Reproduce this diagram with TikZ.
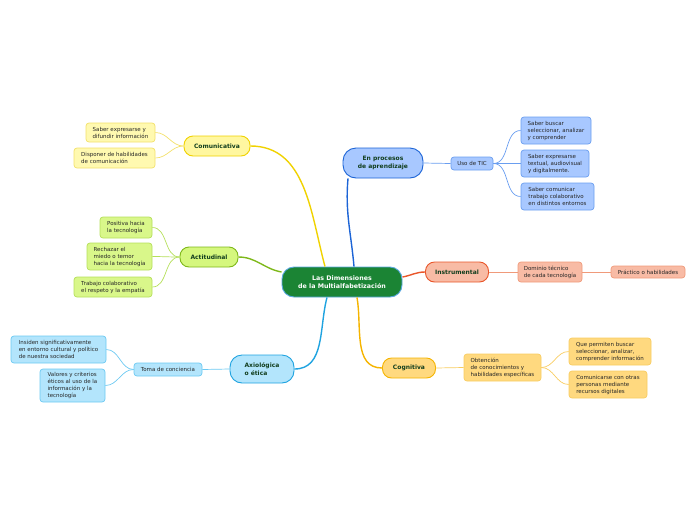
\documentclass[tikz,border=0pt]{standalone}
\usepackage{fontspec}
\setmainfont{DejaVu Sans}
\definecolor{ctrfill}{HTML}{1B8434}
\definecolor{ctrdraw}{HTML}{5AA8E0}
\definecolor{ttxt}{HTML}{123E1E}
\definecolor{ctxt}{HTML}{262626}
\definecolor{yfill}{HTML}{FFF7A0}\definecolor{ydraw}{HTML}{F0D200}\definecolor{ycfill}{HTML}{FFF9B0}\definecolor{ycdraw}{HTML}{F3E06A}
\definecolor{gfill}{HTML}{D5F77E}\definecolor{gdraw}{HTML}{7EB81A}\definecolor{gcfill}{HTML}{D9F78A}\definecolor{gcdraw}{HTML}{B5DF5A}
\definecolor{lbfill}{HTML}{B3E5FC}\definecolor{lbdraw}{HTML}{1FA3E0}\definecolor{lbcdraw}{HTML}{6CC9F2}
\definecolor{bfill}{HTML}{A8C8FF}\definecolor{bdraw}{HTML}{1C64D6}\definecolor{bcdraw}{HTML}{6A9EF0}
\definecolor{ofill}{HTML}{F8BBA5}\definecolor{odraw}{HTML}{E9562A}\definecolor{ocdraw}{HTML}{F09A7A}
\definecolor{cfill}{HTML}{FFD97F}\definecolor{cdraw}{HTML}{F5B400}\definecolor{ccdraw}{HTML}{F8CC60}
\tikzset{
  topic/.style={draw, line width=0.9pt, rounded corners=9pt, inner sep=0pt, align=center,
     font=\fontsize{6}{7.5}\selectfont\bfseries, text=ttxt},
  sub/.style={draw, line width=0.7pt, rounded corners=3pt, inner sep=0pt, align=left,
     font=\fontsize{5.5}{7}\selectfont, text=ctxt},
  mainline/.style={line width=1.4pt},
  subline/.style={line width=0.7pt},
}
\begin{document}
\begin{tikzpicture}[x=1pt,y=-1pt]
\useasboundingbox (0,0) rectangle (696,520);
% center
\node[draw=ctrdraw, fill=ctrfill, line width=0.9pt, rounded corners=12pt, minimum width=120pt, minimum height=30pt,
  align=center, text=white, font=\fontsize{6.3}{8}\selectfont\bfseries] (c) at (342,282) {Las Dimensiones\\de la Multialfabetización};
% main topics
\node[topic, fill=yfill, draw=ydraw, minimum width=66pt, minimum height=20pt] (com) at (217,146) {Comunicativa};
\node[topic, fill=gfill, draw=gdraw, minimum width=58pt, minimum height=20pt] (act) at (209,257) {Actitudinal};
\node[topic, fill=lbfill, draw=lbdraw, minimum width=64pt, minimum height=28pt, rounded corners=12pt, align=left] (axi) at (262,369) {Axiológica\\o ética};
\node[topic, fill=bfill, draw=bdraw, minimum width=80pt, minimum height=30pt, rounded corners=13pt] (apr) at (383,163) {En procesos\\de aprendizaje};
\node[topic, fill=ofill, draw=odraw, minimum width=63pt, minimum height=20pt] (ins) at (457,272) {Instrumental};
\node[topic, fill=cfill, draw=cdraw, minimum width=53pt, minimum height=20pt] (cog) at (409,368) {Cognitiva};
% comunicativa children
\node[sub, fill=ycfill, draw=ycdraw, minimum width=69pt, minimum height=19pt] (com1) at (120.5,132.5) {Saber expresarse y\\difundir información};
\node[sub, fill=ycfill, draw=ycdraw, minimum width=81pt, minimum height=20pt] (com2) at (114.5,158) {Disponer de habilidades\\de comunicación};
% actitudinal children
\node[sub, fill=gcfill, draw=gcdraw, minimum width=52pt, minimum height=21pt] (act1) at (126,227.5) {Positiva hacia\\la tecnología};
\node[sub, fill=gcfill, draw=gcdraw, minimum width=65pt, minimum height=27pt] (act2) at (119.5,256.5) {Rechazar el\\miedo o temor\\hacia la tecnología};
\node[sub, fill=gcfill, draw=gcdraw, minimum width=78pt, minimum height=20pt] (act3) at (113,287) {Trabajo colaborativo\\el respeto y la empatía};
% axiologica children
\node[sub, fill=lbfill, draw=lbcdraw, minimum width=68pt, minimum height=13pt] (toma) at (168,369.5) {Toma de conciencia};
\node[sub, fill=lbfill, draw=lbcdraw, minimum width=95pt, minimum height=27pt] (axi1) at (58.5,349.5) {Insiden significativamente\\en entorno cultural y político\\de nuestra sociedad};
\node[sub, fill=lbfill, draw=lbcdraw, minimum width=65pt, minimum height=33pt] (axi2) at (72.5,385.5) {Valores y criterios\\éticos al uso de la\\información y la\\tecnología};
% aprendizaje children
\node[sub, fill=bfill, draw=bcdraw, minimum width=42pt, minimum height=13pt] (tic) at (472,163.5) {Uso de TIC};
\node[sub, fill=bfill, draw=bcdraw, minimum width=70pt, minimum height=27pt] (apr1) at (556,130.5) {Saber buscar\\seleccionar, analizar\\y comprender};
\node[sub, fill=bfill, draw=bcdraw, minimum width=68pt, minimum height=27pt] (apr2) at (555,163.5) {Saber expresarse\\textual, audiovisual\\y digitalmente.};
\node[sub, fill=bfill, draw=bcdraw, minimum width=73pt, minimum height=27pt] (apr3) at (557.5,196.5) {Saber comunicar\\trabajo colaborativo\\en distintos entornos};
% instrumental children
\node[sub, fill=ofill, draw=ocdraw, minimum width=64pt, minimum height=20pt] (dom) at (550,272) {Dominio técnico\\de cada tecnología};
\node[sub, fill=ofill, draw=ocdraw, minimum width=74pt, minimum height=12pt] (pra) at (648,272) {Práctico o habilidades};
% cognitiva children
\node[sub, fill=cfill, draw=ccdraw, minimum width=77pt, minimum height=27pt] (obt) at (502.5,367.5) {Obtención\\de conocimientos y\\habilidades específicas};
\node[sub, fill=cfill, draw=ccdraw, minimum width=82pt, minimum height=27pt] (cog1) at (610,351.5) {Que permiten buscar\\seleccionar, analizar,\\comprender información};
\node[sub, fill=cfill, draw=ccdraw, minimum width=78pt, minimum height=27pt] (cog2) at (608,384.5) {Comunicarse con otras\\personas mediante\\recursos digitales};
% main connectors
\draw[mainline, draw=ydraw] ([xshift=-17pt]c.north) to[out=105,in=0] (com.east);
\draw[mainline, draw=gdraw] ([yshift=10pt]c.west) to[out=170,in=0] (act.east);
\draw[mainline, draw=lbdraw] ([xshift=-15pt]c.south) to[out=-105,in=0] (axi.east);
\draw[mainline, draw=bdraw] ([xshift=12pt]c.north) to[out=95,in=-95] ([xshift=-35pt]apr.south);
\draw[mainline, draw=odraw] ([yshift=5pt]c.east) to[out=10,in=180] (ins.west);
\draw[mainline, draw=cdraw] ([xshift=15pt]c.south) to[out=-80,in=180] (cog.west);
% sub connectors
\draw[subline, draw=ycdraw] (com.west) to[out=180,in=0] (com1.east);
\draw[subline, draw=ycdraw] (com.west) to[out=180,in=0] (com2.east);
\draw[subline, draw=gcdraw] (act.west) to[out=180,in=0] (act1.east);
\draw[subline, draw=gcdraw] (act.west) to[out=180,in=0] (act2.east);
\draw[subline, draw=gcdraw] (act.west) to[out=180,in=0] (act3.east);
\draw[subline, draw=lbcdraw] (axi.west) -- (toma.east);
\draw[subline, draw=lbcdraw] (toma.west) to[out=180,in=0] (axi1.east);
\draw[subline, draw=lbcdraw] (toma.west) to[out=180,in=0] (axi2.east);
\draw[subline, draw=bcdraw] (apr.east) -- (tic.west);
\draw[subline, draw=bcdraw] (tic.east) to[out=0,in=180] (apr1.west);
\draw[subline, draw=bcdraw] (tic.east) to[out=0,in=180] (apr2.west);
\draw[subline, draw=bcdraw] (tic.east) to[out=0,in=180] (apr3.west);
\draw[subline, draw=ocdraw] (ins.east) -- (dom.west);
\draw[subline, draw=ocdraw] (dom.east) -- (pra.west);
\draw[subline, draw=ccdraw] (cog.east) -- (obt.west);
\draw[subline, draw=ccdraw] (obt.east) to[out=0,in=180] (cog1.west);
\draw[subline, draw=ccdraw] (obt.east) to[out=0,in=180] (cog2.west);
\end{tikzpicture}
\end{document}
